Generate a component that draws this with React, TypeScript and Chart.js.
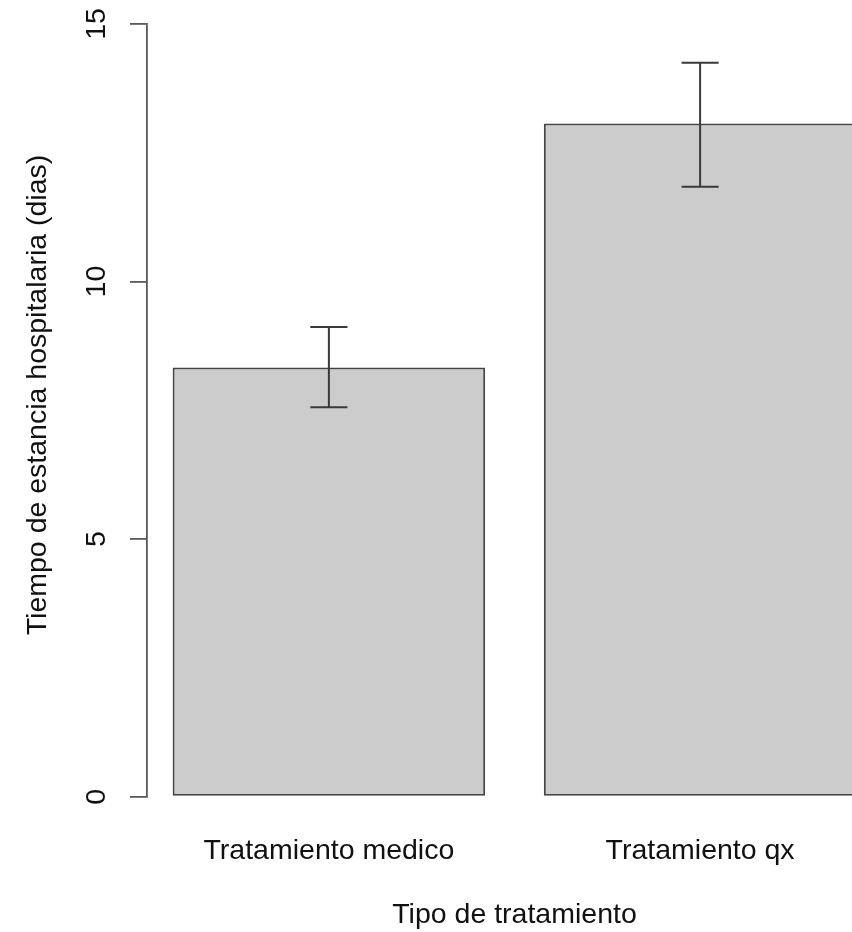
import React, { useEffect, useRef } from "react";
import { Chart, registerables } from "chart.js";

Chart.register(...registerables);

// ---- data ----
const categories = ["Tratamiento medico", "Tratamiento qx"];
const means = [8.33, 13.07];
const errLow = [7.56, 11.84];
const errHigh = [9.12, 14.25];
const yTickValues = [0, 5, 10, 15];
const xTitle = "Tipo de tratamiento";
const yTitle = "Tiempo de estancia hospitalaria (dias)";

// ---- style / layout ----
const FONT = "'Liberation Sans', Arial, Helvetica, sans-serif";
const FONT_SIZE = 28.5;
const TEXT_COLOR = "#111111";
const AXIS_COLOR = "#5a5a5a";

// R barplot convention: bar width 1, space 0.2
const BAR_W = 1;
const SPACE = 0.2;
const pos = (i: number) => SPACE + BAR_W / 2 + i * (BAR_W + SPACE);
const xLo = SPACE;
const xHi = categories.length * (BAR_W + SPACE);
const ext = (xHi - xLo) * 0.04;

const errorBarsPlugin = {
  id: "errorBars",
  afterDatasetsDraw(chart: any) {
    const { ctx, scales } = chart;
    const x = scales.x;
    const y = scales.y;
    ctx.save();
    ctx.strokeStyle = "#3a3a3a";
    ctx.lineWidth = 2;
    categories.forEach((_, i) => {
      const px = x.getPixelForValue(pos(i));
      const half = x.getPixelForValue(pos(i) + 0.06) - px;
      const lo = y.getPixelForValue(errLow[i]);
      const hi = y.getPixelForValue(errHigh[i]);
      ctx.beginPath();
      ctx.moveTo(px, lo);
      ctx.lineTo(px, hi);
      ctx.moveTo(px - half, lo);
      ctx.lineTo(px + half, lo);
      ctx.moveTo(px - half, hi);
      ctx.lineTo(px + half, hi);
      ctx.stroke();
    });
    ctx.restore();
  },
};

const yTitlePlugin = {
  id: "yTitle",
  afterDraw(chart: any) {
    const { ctx } = chart;
    ctx.save();
    ctx.translate(46, 395);
    ctx.rotate(-Math.PI / 2);
    ctx.font = `${FONT_SIZE}px ${FONT}`;
    ctx.fillStyle = TEXT_COLOR;
    ctx.textAlign = "center";
    ctx.textBaseline = "alphabetic";
    ctx.fillText(yTitle, 0, 0);
    ctx.restore();
  },
};

export default function App() {
  const canvasRef = useRef<HTMLCanvasElement | null>(null);

  useEffect(() => {
    if (!canvasRef.current) return;
    const font = { family: FONT, size: FONT_SIZE };
    const chart = new Chart(canvasRef.current, {
      type: "bar",
      data: {
        datasets: [
          {
            data: means.map((v, i) => ({ x: pos(i), y: v })),
            backgroundColor: "#cccccc",
            borderColor: "#454545",
            borderWidth: 2,
            borderSkipped: false,
            barPercentage: 0.842,
            categoryPercentage: 1,
          } as any,
        ],
      },
      options: {
        animation: false,
        responsive: false,
        devicePixelRatio: 1,
        layout: { padding: { top: 24, right: 18, bottom: 0, left: 0 } },
        plugins: {
          legend: { display: false },
          tooltip: { enabled: false },
        },
        scales: {
          x: {
            type: "linear",
            min: xLo - ext,
            max: xHi + ext,
            offset: false,
            afterBuildTicks: (s: any) => {
              s.ticks = categories.map((_, i) => ({ value: pos(i) }));
            },
            ticks: {
              callback: (_v: any, i: number) => categories[i],
              font,
              color: TEXT_COLOR,
              padding: 29,
              maxRotation: 0,
              autoSkip: false,
            },
            grid: { display: false },
            border: { display: false },
            title: {
              display: true,
              text: xTitle,
              font,
              color: TEXT_COLOR,
              padding: 0,
            },
            afterFit: (s: any) => {
              s.height = 135.3;
              s.paddingLeft = 0;
              s.paddingRight = 0;
            },
          },
          y: {
            min: 0,
            max: 15,
            afterBuildTicks: (s: any) => {
              s.ticks = yTickValues.map((v) => ({ value: v }));
            },
            ticks: {
              minRotation: 90,
              maxRotation: 90,
              crossAlign: "center",
              padding: 17,
              font,
              color: TEXT_COLOR,
            },
            grid: {
              drawOnChartArea: false,
              drawTicks: true,
              tickLength: 17,
              color: AXIS_COLOR,
              lineWidth: 1.8,
            },
            border: { display: true, color: AXIS_COLOR, width: 1.8 },
            afterFit: (s: any) => {
              s.width = 147;
              s.paddingTop = 0;
              s.paddingBottom = 0;
            },
          },
        },
      } as any,
      plugins: [errorBarsPlugin, yTitlePlugin],
    });
    return () => chart.destroy();
  }, []);

  return (
    <div
      style={{
        position: "fixed",
        left: 0,
        top: 0,
        width: 852,
        height: 932,
        overflow: "hidden",
        background: "#ffffff",
      }}
    >
      <canvas
        ref={canvasRef}
        width={900}
        height={932}
        style={{ display: "block", width: 900, height: 932 }}
      />
    </div>
  );
}
